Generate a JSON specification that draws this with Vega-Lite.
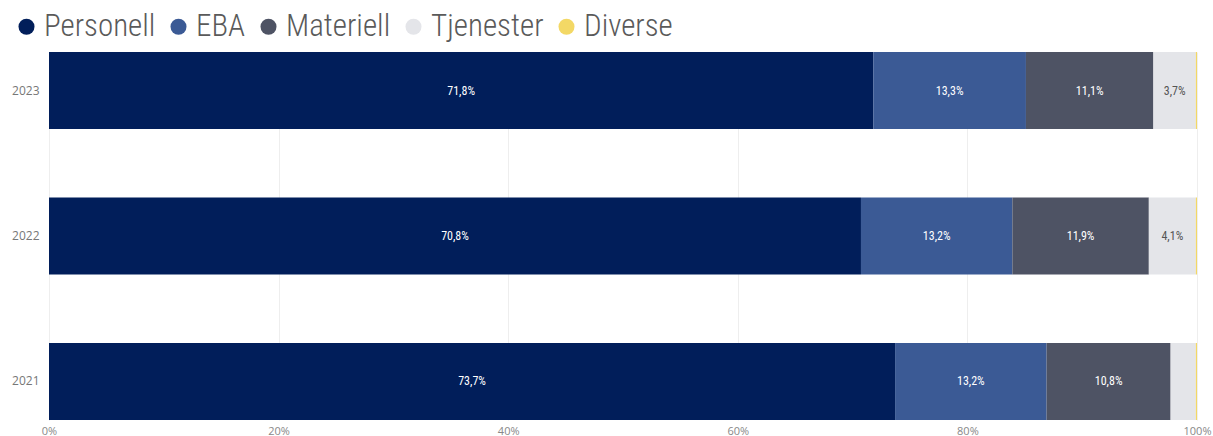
{
  "$schema": "https://vega.github.io/schema/vega-lite/v6.json",
  "autosize": "none",
  "width": 1148,
  "height": 368,
  "padding": {"left": 49, "top": 52, "right": 16, "bottom": 16},
  "background": "white",
  "config": {"view": {"stroke": null}},
  "data": {
    "values": [
      {"year": "2023", "cat": "Personell", "order": 1, "value": 71.8, "label": "71,8%"},
      {"year": "2023", "cat": "EBA", "order": 2, "value": 13.3, "label": "13,3%"},
      {"year": "2023", "cat": "Materiell", "order": 3, "value": 11.1, "label": "11,1%"},
      {"year": "2023", "cat": "Tjenester", "order": 4, "value": 3.7, "label": "3,7%"},
      {"year": "2023", "cat": "Diverse", "order": 5, "value": 0.1, "label": ""},
      {"year": "2022", "cat": "Personell", "order": 1, "value": 70.8, "label": "70,8%"},
      {"year": "2022", "cat": "EBA", "order": 2, "value": 13.2, "label": "13,2%"},
      {"year": "2022", "cat": "Materiell", "order": 3, "value": 11.9, "label": "11,9%"},
      {"year": "2022", "cat": "Tjenester", "order": 4, "value": 4.1, "label": "4,1%"},
      {"year": "2022", "cat": "Diverse", "order": 5, "value": 0.1, "label": ""},
      {"year": "2021", "cat": "Personell", "order": 1, "value": 73.7, "label": "73,7%"},
      {"year": "2021", "cat": "EBA", "order": 2, "value": 13.2, "label": "13,2%"},
      {"year": "2021", "cat": "Materiell", "order": 3, "value": 10.8, "label": "10,8%"},
      {"year": "2021", "cat": "Tjenester", "order": 4, "value": 2.2, "label": ""},
      {"year": "2021", "cat": "Diverse", "order": 5, "value": 0.1, "label": ""}
    ]
  },
  "transform": [
    {"stack": "value", "groupby": ["year"], "offset": "normalize", "sort": [{"field": "order", "order": "ascending"}], "as": ["x0", "x1"]},
    {"calculate": "(datum.x0 + datum.x1) / 2", "as": "xmid"}
  ],
  "encoding": {
    "y": {
      "field": "year", "type": "ordinal", "sort": "descending", "title": null,
      "scale": {"paddingInner": 0.47, "paddingOuter": 0},
      "axis": {"domain": false, "ticks": false, "labelColor": "#777777", "labelFontSize": 12, "labelFont": "Open Sans", "labelPadding": 10}
    }
  },
  "layer": [
    {
      "mark": {"type": "bar"},
      "encoding": {
        "x": {
          "field": "x0", "type": "quantitative", "title": null,
          "scale": {"domain": [0, 1], "nice": false},
          "axis": {"format": ".0%", "values": [0, 0.2, 0.4, 0.6, 0.8, 1], "domain": false, "ticks": false, "grid": true, "gridColor": "#eeeeee", "labelColor": "#888888", "labelFontSize": 11, "labelFont": "Open Sans", "labelPadding": 5, "labelFlush": false}
        },
        "x2": {"field": "x1"},
        "color": {
          "field": "cat", "type": "nominal", "title": null,
          "scale": {
            "domain": ["Personell", "EBA", "Materiell", "Tjenester", "Diverse"],
            "range": ["#011E5A", "#3B5A95", "#4E5364", "#E4E5E9", "#F3D865"]
          },
          "legend": {
            "orient": "none", "legendX": -38, "legendY": -41, "direction": "horizontal",
            "symbolType": "circle", "symbolSize": 256, "symbolStrokeWidth": 0,
            "labelFontSize": 31, "labelFontWeight": 300, "labelFont": "Roboto Condensed, Liberation Sans Narrow, DejaVu Sans Condensed, sans-serif",
            "labelColor": "#5a5a5a", "columnPadding": 7, "labelOffset": 2, "symbolOffset": 0
          }
        },
        "order": {"field": "order"}
      }
    },
    {
      "mark": {"type": "text", "fontSize": 12, "font": "Roboto Condensed, Liberation Sans Narrow, Roboto"},
      "encoding": {
        "x": {"field": "xmid", "type": "quantitative"},
        "text": {"field": "label"},
        "color": {
          "condition": {"test": "datum.cat === 'Tjenester'", "value": "#555555"},
          "value": "#ffffff"
        },
        "fontWeight": {
          "condition": {"test": "datum.cat === 'Tjenester'", "value": "normal"},
          "value": "bold"
        }
      }
    }
  ]
}
